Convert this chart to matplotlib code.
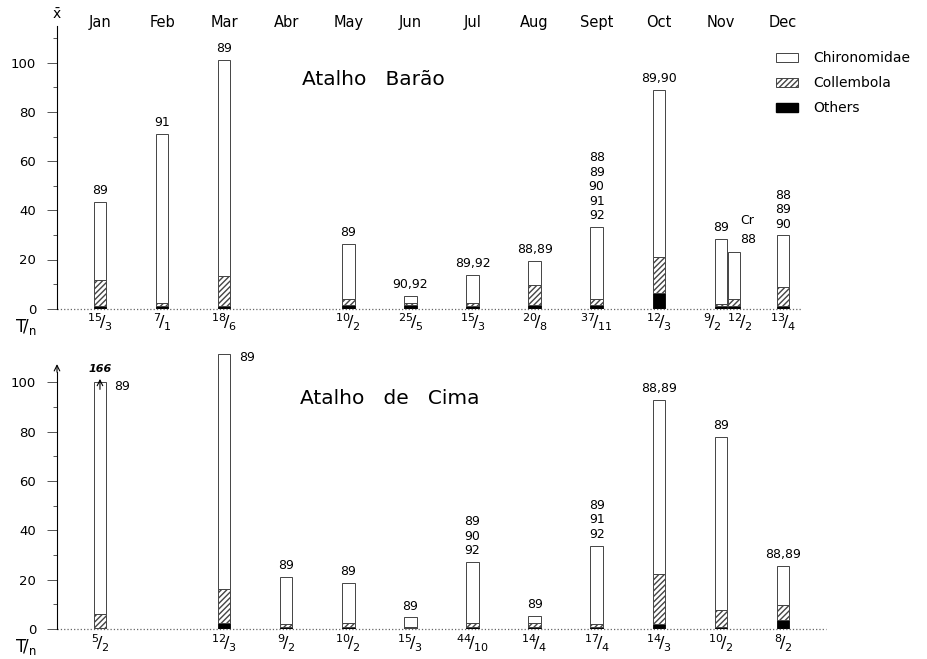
import matplotlib.pyplot as plt
from matplotlib.patches import Patch
import numpy as np

months = ["Jan", "Feb", "Mar", "Abr", "May", "Jun", "Jul", "Aug", "Sept", "Oct", "Nov", "Dec"]

# Atalho Barão (Nov has two bars, the second one is "Cr")
barao_months = ["Jan", "Feb", "Mar", "May", "Jun", "Jul", "Aug", "Sept", "Oct", "Nov", "Nov", "Dec"]
barao_others = [1.0, 1.0, 1.0, 1.5, 1.5, 1.0, 1.5, 1.5, 6.5, 1.0, 1.2, 1.0]
barao_collembola = [10.7, 1.2, 12.3, 2.5, 1.0, 1.5, 8.1, 2.3, 14.4, 0.9, 2.6, 7.7]
barao_chironomidae = [31.8, 68.7, 87.7, 22.2, 2.7, 11.2, 9.8, 29.3, 68.0, 26.3, 19.4, 21.1]
barao_tn = ["15/3", "7/1", "18/6", "10/2", "25/5", "15/3", "20/8", "37/11", "12/3", "9/2", "12/2", "13/4"]
barao_years = ["89", "91", "89", "89", "90,92", "89,92", "88,89", "88\n89\n90\n91\n92",
               "89,90", "89", "Cr\n88", "88\n89\n90"]

# Atalho de Cima
cima_months = ["Jan", "Mar", "Abr", "May", "Jun", "Jul", "Aug", "Sept", "Oct", "Nov", "Dec"]
cima_others = [0.3, 2.3, 1.0, 1.0, 0.5, 1.0, 1.0, 1.0, 2.0, 1.0, 3.7]
cima_collembola = [5.6, 14.1, 1.0, 1.5, 0.5, 1.5, 1.4, 1.0, 20.4, 6.7, 6.1]
cima_chironomidae = [160.1, 95.1, 19.0, 16.3, 3.7, 24.7, 2.9, 31.8, 70.4, 70.3, 15.7]
cima_tn = ["5/2", "12/3", "9/2", "10/2", "15/3", "44/10", "14/4", "17/4", "14/3", "10/2", "8/2"]
cima_years = ["89", "89", "89", "89", "89", "89\n90\n92", "89", "89\n91\n92", "88,89", "89", "88,89"]

W = 0.2
EDGE = "#444444"
XL, XR = -0.692, 13.32


def frac(s):
    a, b = s.split("/")
    return rf"$^{{{a}}}\!/_{{{b}}}$"


def draw_panel(ax, bar_months, others, coll, chiro, tn, years, label_right=(), ytop=115):
    seen = []
    pos = []
    for m in bar_months:
        pos.append(months.index(m) + 0.21 * seen.count(m))
        seen.append(m)
    pos = np.array(pos)
    others = np.array(others)
    coll = np.array(coll)
    chiro = np.array(chiro)
    total = others + coll + chiro
    cut = total > ytop
    shown = np.where(cut, 100 - others - coll, chiro)

    ax.bar(pos, others, W, color="black", edgecolor="black", lw=0.6)
    ax.bar(pos, coll, W, bottom=others, color="white", edgecolor=EDGE, hatch="//////", lw=0.7)
    ax.bar(pos, shown, W, bottom=others + coll, color="white", edgecolor=EDGE, lw=0.7)
    top = others + coll + shown

    for i, (p, t, y, n, m) in enumerate(zip(pos, top, years, tn, bar_months)):
        dup = bar_months.count(m) > 1
        second = dup and bar_months.index(m) != i
        if second:
            ax.annotate(y, (p + W / 2, t), xytext=(0, 4), textcoords="offset points",
                        ha="left", va="bottom", fontsize=9, linespacing=1.6)
        elif m in label_right:
            ax.annotate(y, (p + W / 2, t), xytext=(6, 2), textcoords="offset points",
                        ha="left", va="top", fontsize=9)
        else:
            ax.annotate(y, (p, t), xytext=(0, 3.5), textcoords="offset points",
                        ha="center", va="bottom", fontsize=9, linespacing=1.15)
        dx = 0
        if dup:
            dx = 4 if second else -6
        ax.annotate(frac(n), (p, 0), xytext=(dx, -10), textcoords="offset points",
                    ha="center", va="center", fontsize=11.5, annotation_clip=False)
        if cut[i]:
            ax.annotate("", xy=(p, 102.5), xytext=(p, 96),
                        arrowprops=dict(arrowstyle="->", lw=0.8, color="black"))
            ax.text(p, 105.5, f"{total[i]:.0f}", ha="center", va="center",
                    fontsize=8, style="italic", fontweight="bold")

    ax.set_xlim(XL, XR)
    ax.set_ylim(0, ytop + 3)
    for s in ["top", "right", "bottom"]:
        ax.spines[s].set_visible(False)
    ax.set_xticks([])
    ax.set_yticks([0, 20, 40, 60, 80, 100])
    ax.tick_params(axis="y", length=7, width=0.7, pad=8, labelsize=9.5, color="#555")
    ax.tick_params(axis="y", which="minor", length=3, width=0.7, color="#555")
    ax.annotate(r"$\mathrm{T}\!/_{\mathrm{n}}$", (-1.2, 0), xytext=(0, -13),
                textcoords="offset points", ha="center", va="center", fontsize=12,
                annotation_clip=False)


fig = plt.figure(figsize=(9.27, 6.59), dpi=100)
ax1 = fig.add_axes([57 / 927, 350.3 / 659, 870 / 927, 118 * 2.46 / 659])
ax2 = fig.add_axes([57 / 927, 30 / 659, 870 / 927, 118 * 2.467 / 659])

draw_panel(ax1, barao_months, barao_others, barao_collembola, barao_chironomidae,
           barao_tn, barao_years)
ax1.set_yticks(np.arange(10, 120, 20), minor=True)
ax1.spines["left"].set_bounds(0, 115)
ax1.plot([XL, 11.3], [0, 0], ls=":", color="#666", lw=0.9, clip_on=False)
ax1.text(XL, 119.5, r"$\bar{\mathrm{x}}$", ha="center", va="center", fontsize=10, clip_on=False)
ax1.text(4.4, 93, "Atalho   Barão", ha="center", va="center", fontsize=14.5)
for i, m in enumerate(months):
    ax1.text(i, 116.5, m, ha="center", va="center", fontsize=10.5, clip_on=False)

draw_panel(ax2, cima_months, cima_others, cima_collembola, cima_chironomidae,
           cima_tn, cima_years, label_right=("Jan", "Mar"))
ax2.set_yticks(np.arange(10, 110, 20), minor=True)
ax2.spines["left"].set_bounds(0, 104)
ax2.annotate("", xy=(XL, 108.5), xytext=(XL, 103),
             arrowprops=dict(arrowstyle="->", lw=0.8, color="black"))
ax2.plot([XL, 11.7], [0, 0], ls=":", color="#666", lw=0.9, clip_on=False)
ax2.text(4.67, 93.6, "Atalho   de   Cima", ha="center", va="center", fontsize=14.5)

handles = [Patch(facecolor="white", edgecolor=EDGE, lw=0.7),
           Patch(facecolor="white", edgecolor=EDGE, hatch="//////", lw=0.7),
           Patch(facecolor="black", edgecolor="black")]
fig.legend(handles, ["Chironomidae", "Collembola", "Others"], loc="upper left",
           bbox_to_anchor=(776 / 927, 1 - 51 / 659), frameon=False, fontsize=10,
           handlelength=1.6, handleheight=0.6, labelspacing=0.8, handletextpad=1.1,
           borderpad=0, borderaxespad=0)

fig.savefig("out.png", dpi=100)
